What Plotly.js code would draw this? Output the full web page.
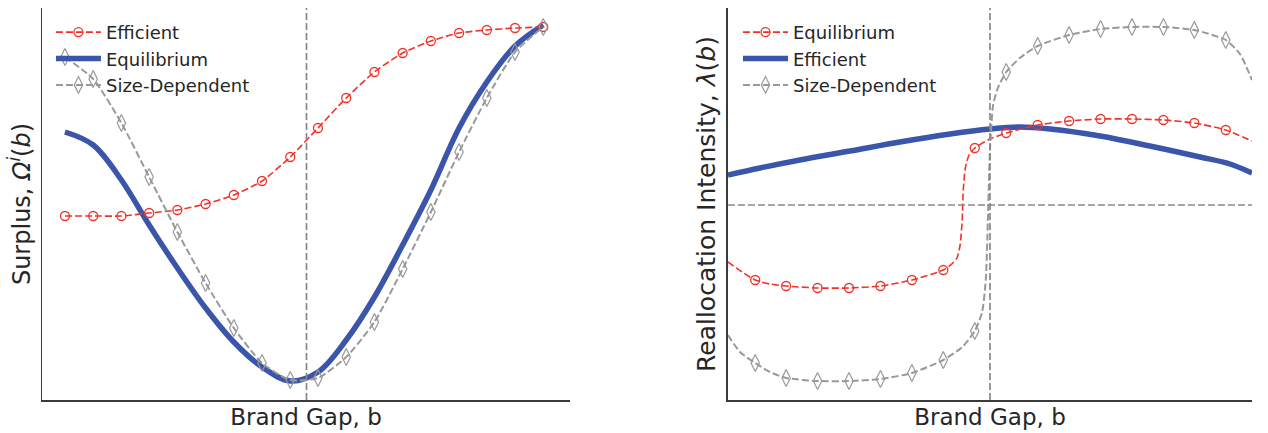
<!DOCTYPE html>
<html>
<head>
<meta charset="utf-8">
<script src="https://cdn.plot.ly/plotly-3.0.1.min.js"></script>
<style>
  html, body { margin: 0; padding: 0; background: #fff; }
  #chart { width: 1268px; height: 433px; }
</style>
</head>
<body>
<div id="chart"></div>
<script>
// ---- Left panel: surplus by brand gap ----
const gapLeft = [0.000, 0.059, 0.118, 0.176, 0.235, 0.294, 0.353, 0.412, 0.471,
                 0.529, 0.588, 0.647, 0.706, 0.765, 0.824, 0.882, 0.941, 1.000];
const surplusEfficient = [1.84, 1.84, 1.84, 1.87, 1.90, 1.96, 2.05, 2.19, 2.43,
                          2.72, 3.02, 3.28, 3.47, 3.59, 3.67, 3.70, 3.72, 3.73];
const surplusEquilibrium = [2.68, 2.55, 2.20, 1.75, 1.32, 0.92, 0.58, 0.33, 0.19,
                            0.28, 0.60, 1.03, 1.55, 2.10, 2.72, 3.18, 3.54, 3.75];
const surplusSizeDep = [3.43, 3.21, 2.77, 2.23, 1.68, 1.17, 0.72, 0.37, 0.20,
                        0.22, 0.43, 0.78, 1.31, 1.88, 2.48, 3.02, 3.48, 3.73];
const gapCutLeft = 0.505;

// ---- Right panel: reallocation intensity by brand gap ----
const gapEqLine = [0.000, 0.027, 0.052, 0.080, 0.111, 0.171, 0.231, 0.291, 0.351, 0.411,
                   0.427, 0.437, 0.443, 0.447, 0.449, 0.453, 0.460, 0.471, 0.500, 0.531,
                   0.591, 0.651, 0.711, 0.771, 0.831, 0.890, 0.950, 1.000];
const lambdaEqLine = [1.38, 1.28, 1.20, 1.16, 1.14, 1.12, 1.12, 1.14, 1.20, 1.30,
                      1.36, 1.42, 1.55, 1.80, 2.10, 2.32, 2.45, 2.52, 2.61, 2.67,
                      2.75, 2.79, 2.81, 2.81, 2.80, 2.77, 2.70, 2.59];
const gapMarks = [0.052, 0.111, 0.171, 0.231, 0.291, 0.351, 0.411, 0.471,
                  0.531, 0.591, 0.651, 0.711, 0.771, 0.831, 0.890, 0.950];
const lambdaEqMarks = [1.20, 1.14, 1.12, 1.12, 1.14, 1.20, 1.30, 2.52,
                       2.67, 2.75, 2.79, 2.81, 2.81, 2.80, 2.77, 2.70];

const gapEffLine = [0.000, 0.061, 0.137, 0.233, 0.328, 0.424, 0.500, 0.557,
                    0.615, 0.710, 0.805, 0.901, 0.958, 1.000];
const lambdaEfficient = [2.25, 2.32, 2.40, 2.49, 2.58, 2.66, 2.71, 2.73,
                         2.71, 2.64, 2.54, 2.43, 2.36, 2.27];

const gapSdLine = [0.000, 0.023, 0.052, 0.080, 0.111, 0.171, 0.231, 0.291, 0.351, 0.411,
                   0.447, 0.471, 0.485, 0.492, 0.496, 0.500, 0.506, 0.515, 0.531, 0.557,
                   0.591, 0.651, 0.711, 0.771, 0.831, 0.890, 0.950, 0.977, 1.000];
const lambdaSdLine = [0.65, 0.48, 0.37, 0.28, 0.22, 0.19, 0.19, 0.21, 0.27, 0.40,
                      0.53, 0.69, 0.88, 1.20, 1.80, 2.50, 2.95, 3.12, 3.28, 3.42,
                      3.54, 3.65, 3.71, 3.73, 3.73, 3.70, 3.60, 3.46, 3.20];
const lambdaSdMarks = [0.37, 0.22, 0.19, 0.19, 0.21, 0.27, 0.40, 0.69,
                       3.28, 3.54, 3.65, 3.71, 3.73, 3.73, 3.70, 3.60];

const gapCutRight = 0.500;
const lambdaBaseline = 1.95;

// ---- Styling ----
const RED = '#f0332a';
const BLUE = '#3a55a9';
const GRAY = '#999999';
const REF = '#888888';
const AXIS = '#3a3a3a';

const redLine = {color: RED, width: 1.6, dash: '7px,3px', shape: 'spline', smoothing: 0.6};
const redMarker = {symbol: 'circle-open', size: 9, color: RED, line: {width: 1.3, color: RED}};
const grayLine = {color: GRAY, width: 2, dash: '7px,3px', shape: 'spline', smoothing: 0.6};
const grayMarker = {symbol: 'diamond-tall-open', size: 12, color: GRAY, line: {width: 1.2, color: GRAY}};
const blueLine = {color: BLUE, width: 5.5, shape: 'spline', smoothing: 1};

const traces = [
  // left panel
  {x: gapLeft, y: surplusEquilibrium, xaxis: 'x', yaxis: 'y', name: 'Equilibrium',
   mode: 'lines', line: blueLine, legend: 'legend', legendrank: 2},
  {x: gapLeft, y: surplusEfficient, xaxis: 'x', yaxis: 'y', name: 'Efficient',
   mode: 'lines+markers', line: redLine, marker: redMarker, legend: 'legend', legendrank: 1},
  {x: gapLeft, y: surplusSizeDep, xaxis: 'x', yaxis: 'y', name: 'Size-Dependent',
   mode: 'lines+markers', line: grayLine, marker: grayMarker, legend: 'legend', legendrank: 3},

  // right panel
  {x: gapEffLine, y: lambdaEfficient, xaxis: 'x2', yaxis: 'y2', name: 'Efficient',
   mode: 'lines', line: blueLine, legend: 'legend2', legendrank: 2},
  {x: gapEqLine, y: lambdaEqLine, xaxis: 'x2', yaxis: 'y2', mode: 'lines',
   line: redLine, showlegend: false, hoverinfo: 'skip'},
  {x: gapMarks, y: lambdaEqMarks, xaxis: 'x2', yaxis: 'y2', mode: 'markers',
   marker: redMarker, showlegend: false},
  {x: gapSdLine, y: lambdaSdLine, xaxis: 'x2', yaxis: 'y2', mode: 'lines',
   line: grayLine, showlegend: false, hoverinfo: 'skip'},
  {x: gapMarks, y: lambdaSdMarks, xaxis: 'x2', yaxis: 'y2', mode: 'markers',
   marker: grayMarker, showlegend: false},
  // legend keys for the right panel (line + marker drawn together)
  {x: [null], y: [null], xaxis: 'x2', yaxis: 'y2', name: 'Equilibrium',
   mode: 'lines+markers', line: redLine, marker: redMarker, legend: 'legend2', legendrank: 1},
  {x: [null], y: [null], xaxis: 'x2', yaxis: 'y2', name: 'Size-Dependent',
   mode: 'lines+markers', line: grayLine, marker: grayMarker, legend: 'legend2', legendrank: 3}
];

const bareAxis = {
  showgrid: false, zeroline: false, showticklabels: false, ticks: '',
  showline: true, linecolor: AXIS, linewidth: 1.5, fixedrange: true
};

const legendStyle = {
  xanchor: 'left', yanchor: 'top', itemwidth: 45,
  bgcolor: 'rgba(0,0,0,0)', borderwidth: 0, font: {size: 18, color: '#262626'},
  traceorder: 'normal', itemclick: false, itemdoubleclick: false
};

const layout = {
  width: 1268, height: 433,
  margin: {l: 42, r: 16, t: 8, b: 33},
  paper_bgcolor: '#ffffff', plot_bgcolor: '#ffffff',
  font: {family: 'DejaVu Sans', color: '#262626'},
  showlegend: true,
  xaxis: Object.assign({}, bareAxis, {
    domain: [0, 0.4364], range: [-0.048, 1.056], anchor: 'y',
    title: {text: 'Brand Gap, b', font: {size: 23}, standoff: 8}
  }),
  yaxis: Object.assign({}, bareAxis, {
    domain: [0, 1], range: [0, 3.92], anchor: 'x',
    title: {text: 'Surplus, <i>Ω</i><sup><i>i</i></sup>(<i>b</i>)', font: {size: 24}, standoff: 3}
  }),
  xaxis2: Object.assign({}, bareAxis, {
    domain: [0.5669, 1], range: [0, 1], anchor: 'y2',
    title: {text: 'Brand Gap, b', font: {size: 23}, standoff: 8}
  }),
  yaxis2: Object.assign({}, bareAxis, {
    domain: [0, 1], range: [0, 3.92], anchor: 'x2',
    title: {text: 'Reallocation Intensity, <i>λ</i>(<i>b</i>)', font: {size: 25}, standoff: 3}
  }),
  legend: Object.assign({}, legendStyle, {x: 0.0074, y: 0.985}),
  legend2: Object.assign({}, legendStyle, {x: 0.5752, y: 0.985}),
  shapes: [
    {type: 'line', xref: 'x', yref: 'y domain', x0: gapCutLeft, x1: gapCutLeft, y0: 0, y1: 1,
     line: {color: REF, width: 1.7, dash: '7px,3px'}, layer: 'above'},
    {type: 'line', xref: 'x2', yref: 'y2 domain', x0: gapCutRight, x1: gapCutRight, y0: 0, y1: 1,
     line: {color: REF, width: 1.7, dash: '7px,3px'}, layer: 'above'},
    {type: 'line', xref: 'x2 domain', yref: 'y2', x0: 0, x1: 1, y0: lambdaBaseline, y1: lambdaBaseline,
     line: {color: REF, width: 1.7, dash: '7px,3px'}, layer: 'above'}
  ]
};

Plotly.newPlot('chart', traces, layout, {displayModeBar: false, staticPlot: true});
</script>
</body>
</html>
